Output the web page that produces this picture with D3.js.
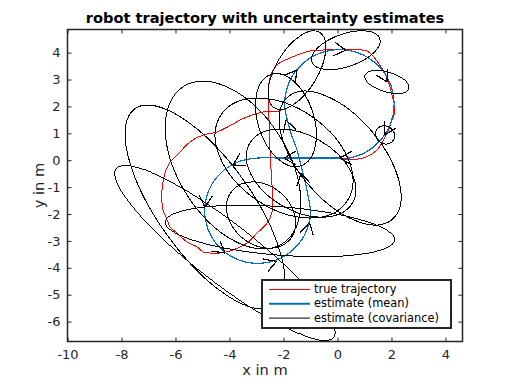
<!DOCTYPE html>
<html>
<head>
<meta charset="utf-8">
<script src="https://cdn.jsdelivr.net/npm/d3@7"></script>
<style>
body { margin: 0; background: #fff; }
text { font-family: "DejaVu Sans", sans-serif; }
</style>
</head>
<body>
<svg width="512" height="384"></svg>
<script>
var xTicks = [-10, -8, -6, -4, -2, 0, 2, 4];
var yTicks = [-6, -5, -4, -3, -2, -1, 0, 1, 2, 3, 4];

// true trajectory [x, y] in m
var trueTraj = [
    [-2.13, 1.83], [-2.76, 1.79], [-3.35, 1.61], [-3.61, 1.49], [-4.46, 1.05], [-4.98, 0.94],
    [-5.46, 0.68], [-5.94, 0.19], [-6.20, -0.07], [-6.39, -0.48], [-6.50, -1.12], [-6.50, -1.59],
    [-6.46, -1.85], [-6.31, -2.22], [-6.20, -2.48], [-5.94, -2.71], [-5.57, -3.04], [-5.20, -3.22],
    [-4.98, -3.41], [-4.72, -3.45], [-4.35, -3.45], [-3.87, -3.34], [-3.35, -3.08], [-2.98, -2.71],
    [-2.61, -2.34], [-2.43, -1.96], [-2.39, -1.48], [-2.43, -0.85], [-2.50, 0.38], [-2.54, 1.60],
    [-2.57, 2.24], [-2.50, 3.06], [-2.24, 3.54], [-1.76, 3.80], [-1.02, 4.06], [-0.39, 4.10],
    [0.46, 4.10], [1.09, 4.06], [1.46, 3.69], [1.83, 3.06], [2.02, 2.42], [2.13, 1.86],
    [2.02, 1.49], [1.83, 1.00], [1.46, 0.38], [0.94, 0.08], [0.20, 0.01]
];

// estimated mean [x, y] in m
var meanTraj = [
    [0.07, 0.08], [-1.00, 0.08], [-2.00, 0.08], [-2.96, 0.08], [-3.63, -0.04], [-4.22, -0.38],
    [-4.66, -0.90], [-4.89, -1.54], [-4.89, -2.22], [-4.66, -2.86], [-4.22, -3.38], [-3.63, -3.72],
    [-2.96, -3.84], [-2.29, -3.72], [-1.70, -3.38], [-1.26, -2.86], [-1.03, -2.22], [-1.00, -1.88],
    [-1.13, -1.11], [-1.31, -0.37], [-1.50, 0.38], [-1.76, 1.12], [-1.96, 2.08], [-1.84, 2.77],
    [-1.49, 3.39], [-0.95, 3.84], [-0.28, 4.08], [0.42, 4.08], [1.09, 3.84], [1.63, 3.39],
    [1.98, 2.77], [2.10, 2.08], [1.98, 1.39], [1.63, 0.78], [1.09, 0.32], [0.42, 0.08], [0.07, 0.08]
];

// covariance ellipses: [cx, cy, semi-major, semi-minor, angle deg]
var covEllipses = [
    [0.10, 0.08, 2.98, 1.54, -49.6],
    [-1.98, 0.08, 2.83, 1.86, -34.9],
    [-3.87, -0.18, 3.44, 2.04, -57.9],
    [-4.91, -1.74, 4.47, 1.75, -54.5],
    [-4.17, -3.45, 5.10, 1.10, -37.8],
    [-2.13, -2.63, 4.26, 0.90, -4.5],
    [-2.83, -2.04, 1.40, 1.10, -40],
    [-1.35, -0.48, 2.20, 1.40, -30],
    [-1.91, 1.49, 1.78, 1.04, -72],
    [-1.50, 3.35, 1.63, 0.78, 59],
    [0.31, 4.09, 1.33, 0.61, 19],
    [1.83, 2.91, 0.85, 0.37, -17],
    [1.76, 0.94, 0.37, 0.33, -30]
];

// estimated poses: [x, y, heading deg]
var poses = [
    [0.09, 0.08, 180], [-1.98, 0.08, 180], [-3.87, -0.18, 209], [-4.91, -1.74, 266],
    [-4.17, -3.45, 322], [-2.26, -3.76, 20], [-1.04, -2.32, 77], [-1.35, -0.48, 102],
    [-1.91, 1.49, 108], [-1.50, 3.35, 52], [0.31, 4.09, -6], [1.83, 2.91, -63], [1.76, 0.94, -118]
];

var legendLabels = ["true trajectory", "estimate (mean)", "estimate (covariance)"];
var legendColors = ["#ff0000", "#0072bd", "#000000"];
var legendWidths = [1, 2, 1];

var svg = d3.select("svg");
var pLeft = 67.5, pRight = 462.5, pTop = 29.5, pBottom = 341.5;

var x = d3.scaleLinear().domain([-10, 4.63]).range([pLeft, pRight]);
var y = d3.scaleLinear().domain([-6.74, 4.86]).range([pBottom, pTop]);

svg.append("defs").append("clipPath").attr("id", "plotclip")
    .append("rect")
    .attr("x", pLeft).attr("y", pTop)
    .attr("width", pRight - pLeft).attr("height", pBottom - pTop);

var plot = svg.append("g").attr("clip-path", "url(#plotclip)");

var line = d3.line().x(d => x(d[0])).y(d => y(d[1])).curve(d3.curveCatmullRom);

plot.append("path")
    .attr("d", line(trueTraj))
    .attr("fill", "none")
    .attr("stroke", "#ff0000")
    .attr("stroke-width", 1)
    .attr("shape-rendering", "crispEdges");

plot.append("path")
    .attr("d", line(meanTraj))
    .attr("fill", "none")
    .attr("stroke", "#0072bd")
    .attr("stroke-width", 1.2)
    .attr("shape-rendering", "crispEdges");

plot.selectAll("ellipse")
    .data(covEllipses)
    .enter().append("ellipse")
    .attr("cx", 0).attr("cy", 0)
    .attr("rx", d => x(d[2]) - x(0))
    .attr("ry", d => y(0) - y(d[3]))
    .attr("transform", d => "translate(" + x(d[0]) + "," + y(d[1]) + ") rotate(" + (-d[4]) + ")")
    .attr("fill", "none")
    .attr("stroke", "#000")
    .attr("stroke-width", 1)
    .attr("shape-rendering", "crispEdges");

// arrow heads at each pose
var barb = 0.5, spread = 30;
var barbs = [];
poses.forEach(function (p) {
    [-spread, spread].forEach(function (s) {
        var a = (p[2] + 180 + s) * Math.PI / 180;
        barbs.push([p[0], p[1], p[0] + barb * Math.cos(a), p[1] + barb * Math.sin(a)]);
    });
});
plot.selectAll("line.barb")
    .data(barbs)
    .enter().append("line")
    .attr("class", "barb")
    .attr("x1", d => x(d[0])).attr("y1", d => y(d[1]))
    .attr("x2", d => x(d[2])).attr("y2", d => y(d[3]))
    .attr("stroke", "#000")
    .attr("stroke-width", 1.2)
    .attr("shape-rendering", "crispEdges");

// axes box + ticks
var axisColor = "#262626";
svg.append("rect")
    .attr("x", pLeft).attr("y", pTop)
    .attr("width", pRight - pLeft).attr("height", pBottom - pTop)
    .attr("fill", "none").attr("stroke", axisColor).attr("stroke-width", 1.5);

svg.append("g").attr("transform", "translate(0," + pBottom + ")")
    .call(d3.axisBottom(x).tickValues(xTicks).tickSize(-4).tickPadding(8).tickFormat(d3.format("d")))
    .call(g => g.select(".domain").remove());
svg.append("g").attr("transform", "translate(0," + pTop + ")")
    .call(d3.axisTop(x).tickValues(xTicks).tickSize(-4).tickFormat(""))
    .call(g => g.select(".domain").remove());
svg.append("g").attr("transform", "translate(" + pLeft + ",0)")
    .call(d3.axisLeft(y).tickValues(yTicks).tickSize(-4).tickPadding(7).tickFormat(d3.format("d")))
    .call(g => g.select(".domain").remove());
svg.append("g").attr("transform", "translate(" + pRight + ",0)")
    .call(d3.axisRight(y).tickValues(yTicks).tickSize(-4).tickFormat(""))
    .call(g => g.select(".domain").remove());

svg.selectAll(".tick line").attr("stroke", axisColor);
svg.selectAll(".tick text")
    .attr("fill", axisColor)
    .style("font-size", "13px")
    .style("font-family", "DejaVu Sans")
    .text(function () { return d3.select(this).text().replace("\u2212", "-"); });

svg.append("text")
    .attr("x", (pLeft + pRight) / 2).attr("y", 22.5)
    .attr("text-anchor", "middle")
    .style("font-size", "14.6px").style("font-weight", "bold")
    .attr("fill", "#000")
    .text("robot trajectory with uncertainty estimates");

svg.append("text")
    .attr("x", (pLeft + pRight) / 2).attr("y", 375)
    .attr("text-anchor", "middle")
    .style("font-size", "14.6px")
    .attr("fill", axisColor)
    .text("x in m");

svg.append("text")
    .attr("transform", "translate(44," + (pTop + pBottom) / 2 + ") rotate(-90)")
    .attr("text-anchor", "middle")
    .style("font-size", "14.6px")
    .attr("fill", axisColor)
    .text("y in m");

// legend
var legend = svg.append("g").attr("transform", "translate(262,280)");
legend.append("rect")
    .attr("width", 189).attr("height", 48)
    .attr("fill", "#fff").attr("stroke", axisColor).attr("stroke-width", 2);
legendLabels.forEach(function (label, i) {
    var row = legend.append("g").attr("transform", "translate(0," + (9 + i * 14.3) + ")");
    row.append("line")
        .attr("x1", 7).attr("x2", 48)
        .attr("y1", 0.5).attr("y2", 0.5)
        .style("stroke", legendColors[i])
        .style("stroke-width", legendWidths[i]);
    row.append("text")
        .attr("x", 52).attr("dy", "0.36em")
        .style("font-size", "11.4px")
        .attr("fill", "#000")
        .text(label);
});
</script>
</body>
</html>
